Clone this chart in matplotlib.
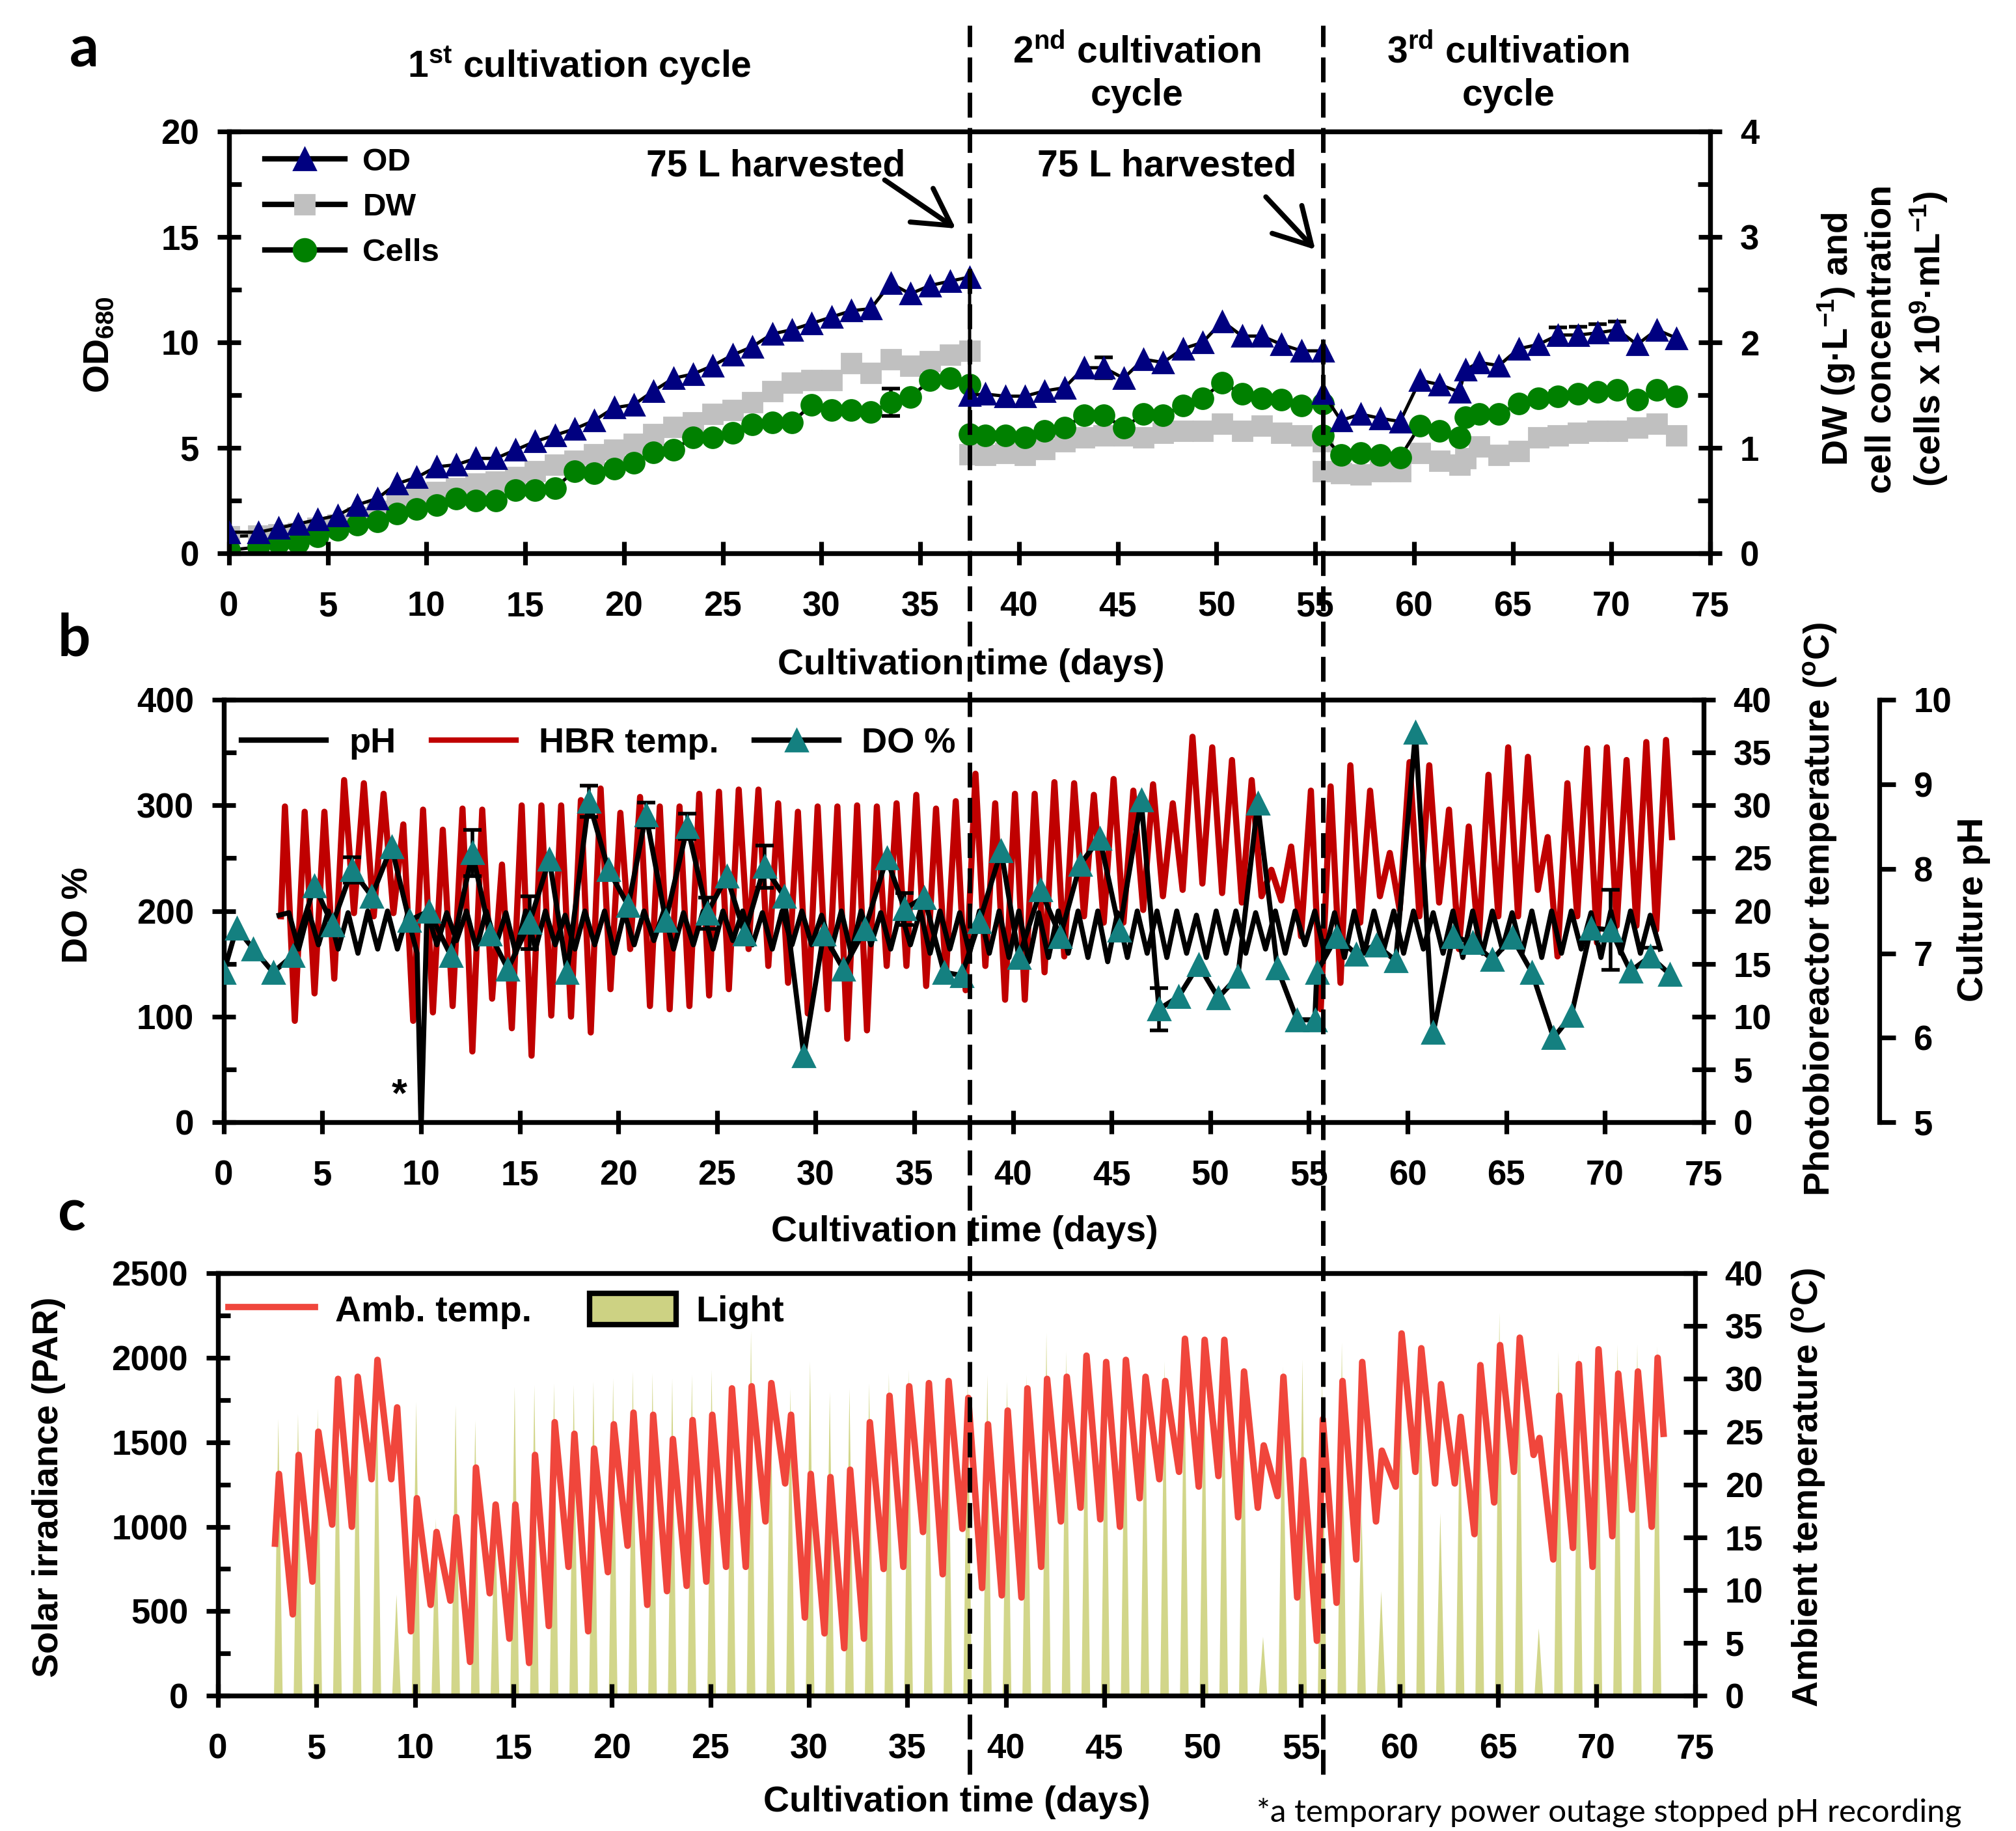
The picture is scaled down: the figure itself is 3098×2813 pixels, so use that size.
import numpy as np
import matplotlib
matplotlib.use("Agg")
import matplotlib.pyplot as plt
from matplotlib.lines import Line2D
from matplotlib.patches import Patch
from matplotlib.ticker import MultipleLocator

plt.rcParams["font.family"] = ["Liberation Sans", "DejaVu Sans"]
plt.rcParams["font.weight"] = "bold"
plt.rcParams["mathtext.fontset"] = "custom"
plt.rcParams["mathtext.rm"] = "Liberation Sans:bold"
plt.rcParams["mathtext.it"] = "Liberation Sans:bold"
plt.rcParams["mathtext.bf"] = "Liberation Sans:bold"

# ---------------- panel a: growth ----------------
a_days = [0, 1.5, 2.5, 3.5, 4.5, 5.5, 6.5, 7.5, 8.5, 9.5, 10.5, 11.5, 12.5, 13.5,
          14.5, 15.5, 16.5, 17.5, 18.5, 19.5, 20.5, 21.5, 22.5, 23.5, 24.5, 25.5,
          26.5, 27.5, 28.5, 29.5, 30.5, 31.5, 32.5, 33.5, 34.5, 35.5, 36.5, 37.5,
          37.5, 38.3, 39.3, 40.3, 41.3, 42.3, 43.3, 44.3, 45.3, 46.3, 47.3, 48.3,
          49.3, 50.3, 51.3, 52.3, 53.3, 54.3, 55.4,
          55.4, 56.3, 57.3, 58.3, 59.3, 60.3, 61.3, 62.3, 62.6, 63.3, 64.3, 65.3,
          66.3, 67.3, 68.3, 69.3, 70.3, 71.3, 72.3, 73.3]
od = [1.0, 1.0, 1.2, 1.4, 1.6, 1.8, 2.3, 2.6, 3.3, 3.6, 4.1, 4.2, 4.5, 4.5, 4.9,
      5.3, 5.6, 5.9, 6.3, 6.9, 7.05, 7.7, 8.3, 8.5, 8.9, 9.4, 9.8, 10.4, 10.6,
      10.9, 11.2, 11.5, 11.6, 12.8, 12.3, 12.7, 12.9, 13.1,
      7.5, 7.55, 7.45, 7.45, 7.7, 7.85, 8.8, 8.8, 8.3, 9.2, 9.05, 9.7, 10.0, 11.0,
      10.3, 10.3, 9.9, 9.6, 9.6,
      7.6, 6.3, 6.6, 6.4, 6.25, 8.2, 8.0, 7.65, 8.7, 9.05, 8.9, 9.7, 9.9, 10.35,
      10.35, 10.45, 10.6, 9.9, 10.6, 10.2]
dw = [0.16, 0.17, 0.18, 0.19, 0.24, 0.27, 0.34, 0.4, 0.5, 0.56, 0.58, 0.62, 0.66,
      0.68, 0.72, 0.78, 0.84, 0.88, 0.94, 0.98, 1.04, 1.13, 1.2, 1.24, 1.32, 1.36,
      1.43, 1.54, 1.62, 1.64, 1.64, 1.8, 1.71, 1.84, 1.78, 1.82, 1.88, 1.92,
      0.94, 0.93, 0.95, 0.93, 0.99, 1.06, 1.10, 1.12, 1.12, 1.10, 1.14, 1.16,
      1.16, 1.23, 1.16, 1.21, 1.14, 1.12, 1.06,
      0.78, 0.76, 0.75, 0.78, 0.78, 0.95, 0.88, 0.84, 0.9, 1.01, 0.93, 0.97,
      1.10, 1.12, 1.14, 1.16, 1.16, 1.19, 1.23, 1.12]
cells = [0.03, 0.06, 0.1, 0.1, 0.16, 0.22, 0.27, 0.3, 0.38, 0.42, 0.46, 0.52, 0.5,
         0.5, 0.6, 0.6, 0.62, 0.78, 0.76, 0.8, 0.86, 0.96, 0.98, 1.1, 1.1, 1.14,
         1.22, 1.24, 1.24, 1.41, 1.36, 1.36, 1.34, 1.43, 1.48, 1.64, 1.66, 1.6,
         1.13, 1.12, 1.12, 1.10, 1.16, 1.19, 1.31, 1.31, 1.19, 1.32, 1.31, 1.40,
         1.47, 1.62, 1.51, 1.47, 1.46, 1.40, 1.42,
         1.12, 0.93, 0.95, 0.93, 0.91, 1.21, 1.16, 1.10, 1.29, 1.32, 1.32, 1.42,
         1.47, 1.49, 1.51, 1.53, 1.55, 1.46, 1.55, 1.49]
od_err = {45: 0.5, 70: 0.35, 71: 0.4, 72: 0.4, 73: 0.4}
dw_err = {45: 0.06}
cells_err = {33: 0.13, 46: 0.05, 70: 0.05}
harvest_days = [37.5, 55.4]

# ---------------- panel b: DO, pH, HBR temperature ----------------
do_days = [0, 0.65, 1.5, 2.5, 3.5, 4.6, 5.5, 6.5, 7.5, 8.5, 9.4, 10.4, 11.5, 12.6,
           13.5, 14.4, 15.5, 16.5, 17.4, 18.5, 19.5, 20.5, 21.4, 22.4, 23.5, 24.5,
           25.5, 26.4, 27.4, 28.4, 29.4, 30.4, 31.4, 32.5, 33.6, 34.5, 35.5, 36.5,
           37.4, 38.3, 39.4, 40.3, 41.4, 42.4, 43.4, 44.4, 45.4, 46.5, 47.4, 48.4,
           49.4, 50.4, 51.4, 52.4, 53.4, 54.4, 55.3, 55.4, 56.4, 57.4, 58.4, 59.4,
           60.4, 61.3, 62.3, 63.3, 64.3, 65.3, 66.3, 67.4, 68.3, 69.3, 70.3, 71.3,
           72.3, 73.3]
do_pct = [142, 184, 164, 142, 158, 224, 187, 239, 214, 261, 191, 200, 158, 255,
          178, 145, 189, 249, 142, 304, 239, 205, 291, 191, 280, 198, 233, 178,
          242, 214, 63, 178, 145, 183, 250, 202, 213, 142, 139, 190, 257, 156,
          220, 176, 244, 269, 182, 305, 107, 119, 149, 118, 138, 302, 146, 97, 97,
          142, 176, 159, 168, 153, 369, 85, 176, 170, 154, 175, 142, 80, 101, 184,
          182, 143, 157, 140]
do_err = {7: 12, 13: 22, 16: 25, 19: 15, 22: 12, 24: 12, 25: 15, 28: 20, 35: 15,
          48: 20, 72: 38, 74: 8}

temp_days = list(range(3, 74))
hbr_peak = [29.9, 29.4, 29.4, 32.4, 32.1, 31.1, 28.2, 29.6, 27.7, 29.7,
            29.6, 24.4, 30.0, 30.0, 30.0, 30.5, 31.6, 29.3, 30.8, 29.9,
            29.9, 31.1, 31.3, 31.5, 31.5, 30.2, 29.4, 29.9, 29.9, 30.0,
            29.9, 30.2, 31.0, 29.7, 30.4, 33.0, 30.2, 31.1, 31.1, 32.2,
            32.1, 31.0, 32.5, 31.4, 32.0, 30.2, 36.5, 35.5, 34.3, 32.4,
            23.9, 26.1, 31.4, 31.8, 33.8, 31.4, 25.5, 34.1, 33.8, 29.6,
            28.0, 32.9, 35.5, 34.6, 27.0, 32.1, 35.4, 35.5, 34.3, 36.0,
            36.2]
hbr_trough = [9.6, 12.2, 13.6, 19.8, 19.5, 19.8, 9.6, 10.4, 11.0, 6.7,
              11.7, 8.9, 6.3, 10.1, 10.0, 8.5, 12.6, 16.4, 11.0, 10.7,
              11.0, 12.0, 12.6, 16.4, 14.8, 13.2, 10.3, 10.7, 7.9, 8.7,
              14.8, 14.8, 12.9, 13.9, 12.5, 14.8, 11.6, 11.6, 14.2, 15.7,
              19.5, 18.9, 18.9, 20.1, 21.4, 22.0, 22.6, 21.7, 20.8, 21.4,
              21.0, 17.6, 10.7, 13.2, 18.9, 21.4, 20.1, 19.5, 20.8, 16.4,
              17.0, 19.5, 19.5, 22.0, 15.7, 19.5, 17.0, 18.6, 18.6, 18.2]
hbr_first = (2.9, 19.5)
hbr_last = (73.4, 27.0)

ph_high = [7.48, 7.5, 7.5, 7.48, 7.5, 7.5, 7.45, 7.5, 7.48, 7.5,
           7.5, 7.48, 7.5, 7.5, 7.45, 7.5, 7.5, 7.48, 7.5, 7.5,
           7.48, 7.5, 7.5, 7.5, 7.48, 7.5, 7.5, 7.45, 7.5, 7.5,
           7.48, 7.5, 7.5, 7.5, 7.48, 7.5, 7.5, 7.5, 7.48, 7.5,
           7.5, 7.5, 7.48, 7.5, 7.5, 7.5, 7.45, 7.5, 7.5, 7.48,
           7.5, 7.5, 7.5, 7.48, 7.5, 7.5, 7.5, 7.5, 7.48, 7.5,
           7.5, 7.5, 7.48, 7.5, 7.5, 7.5, 7.48, 7.5, 7.5, 7.45]
ph_low = [7.05, 7.1, 7.05, 7.0, 7.05, 7.05, 7.0, 7.1, 7.15, 7.05,
          7.1, 7.0, 7.05, 7.1, 7.05, 7.1, 7.0, 7.1, 7.15, 7.05,
          7.1, 7.05, 7.15, 7.1, 7.05, 7.1, 7.1, 7.05, 7.0, 7.1,
          7.05, 7.1, 7.0, 7.05, 7.0, 7.0, 6.95, 6.9, 6.95, 7.0,
          6.95, 6.9, 6.95, 7.0, 6.95, 7.0, 6.95, 7.0, 7.0, 7.05,
          7.0, 7.1, 7.0, 6.95, 7.0, 7.05, 7.0, 7.05, 7.0, 6.95,
          7.0, 7.05, 7.0, 6.95, 7.0, 7.05, 6.95, 7.0, 7.0, 7.05]
ph_first = (2.8, 7.45)
ph_outage = (10.0, 4.9)

# ---------------- panel c: light and ambient temperature ----------------
light_peak = [1640, 1670, 1700, 1780, 1850, 1860, 600, 1740, 1050, 1720,
              1630, 1150, 1830, 1840, 1850, 1840, 1860, 1880, 1920, 1910,
              1880, 1900, 1930, 1870, 2160, 1800, 1820, 1980, 1800, 1820,
              1850, 1910, 1930, 1880, 1860, 1880, 1900, 1860, 1900, 2150,
              2040, 1950, 1980, 1950, 1900, 1980, 2000, 1980, 2000, 1930,
              350, 1950, 1990, 1880, 2090, 1100, 620, 2000, 2050, 1080,
              1700, 2000, 2270, 2100, 400, 2040, 2030, 2050, 2080, 2080,
              2070]
amb_peak = [21.0, 22.8, 25.0, 30.0, 30.2, 31.8, 27.3, 18.7, 15.5, 16.9,
            21.6, 18.1, 18.1, 22.8, 25.9, 24.8, 23.4, 25.7, 26.8, 26.6,
            24.3, 26.1, 26.6, 29.1, 29.3, 29.6, 26.6, 21.0, 20.7, 21.4,
            25.9, 28.4, 29.3, 29.6, 29.8, 28.2, 25.7, 27.0, 29.1, 30.0,
            30.2, 32.2, 31.6, 31.8, 30.2, 29.8, 33.8, 33.7, 33.7, 30.7,
            23.7, 30.2, 22.3, 26.2, 29.8, 31.6, 23.2, 34.3, 32.9, 29.5,
            26.4, 31.3, 33.2, 33.9, 24.4, 28.4, 31.4, 32.8, 30.5, 30.7,
            32.0]
amb_trough = [7.7, 10.8, 16.2, 16.0, 20.5, 20.5, 6.1, 8.6, 9.0, 3.2,
              9.7, 5.4, 3.1, 6.6, 12.2, 6.1, 11.7, 14.2, 8.6, 9.9,
              10.4, 10.8, 12.2, 12.2, 16.5, 20.1, 7.4, 5.9, 4.5, 5.4,
              12.0, 12.2, 15.5, 11.5, 15.8, 10.2, 9.5, 9.3, 12.2, 16.5,
              17.8, 16.7, 16.0, 18.7, 20.5, 21.2, 19.8, 20.8, 16.9, 17.8,
              18.9, 9.3, 5.2, 8.8, 12.9, 16.5, 19.8, 21.2, 20.1, 20.1,
              15.3, 18.3, 21.2, 22.8, 12.9, 14.0, 12.2, 15.1, 17.6, 16.0]
amb_first = (2.9, 14.4)
amb_last = (73.4, 24.8)

x_ticks = list(range(0, 80, 5))

# colours
NAVY, GREY, GREEN = "#000080", "#c0c0c0", "#008000"
TEAL, DARKRED = "#148080", "#c00000"
AMBRED, KHAKI = "#f0463c", "#d2d68a"

SPW = 2.6
LBL = 20


def style(ax, xpad=14, ypad=10):
    for s in ax.spines.values():
        s.set_linewidth(SPW)
    ax.tick_params(which="major", direction="inout", length=13, width=SPW,
                   labelsize=19)
    ax.tick_params(which="minor", direction="in", length=7, width=SPW)
    ax.tick_params(axis="x", pad=xpad)
    ax.tick_params(axis="y", pad=ypad)


fig = plt.figure(figsize=(15.49, 14.065), dpi=200)

# ================= panel a =================
ax_a = fig.add_axes([0.1136, 0.6978, 0.7347, 0.2304])
ax_a2 = ax_a.twinx()
ax_a.set_zorder(3)
ax_a.patch.set_visible(False)

ax_a2.plot(a_days, dw, color="black", lw=1.8, marker="s", ms=10.5,
           mfc=GREY, mec=GREY, zorder=2)
ax_a2.plot(a_days, cells, color="black", lw=1.8, marker="o", ms=11.5,
           mfc=GREEN, mec=GREEN, zorder=3)
ax_a.plot(a_days, od, color="black", lw=1.8, marker="^", ms=11.5,
          mfc=NAVY, mec=NAVY, zorder=3)

for axx, vals, errs in [(ax_a, od, od_err), (ax_a2, dw, dw_err),
                        (ax_a2, cells, cells_err)]:
    idx = list(errs.keys())
    axx.errorbar([a_days[i] for i in idx], [vals[i] for i in idx],
                 yerr=[errs[i] for i in idx], fmt="none", ecolor="black",
                 elinewidth=2, capsize=5, capthick=2, zorder=1)

ax_a.set_xlim(0, 75)
ax_a.set_ylim(0, 20)
ax_a2.set_ylim(0, 4)
ax_a.set_xticks(x_ticks)
ax_a.yaxis.set_major_locator(MultipleLocator(5))
ax_a.yaxis.set_minor_locator(MultipleLocator(2.5))
ax_a2.yaxis.set_major_locator(MultipleLocator(1))
ax_a2.yaxis.set_minor_locator(MultipleLocator(0.5))
style(ax_a)
style(ax_a2)

leg_a = [Line2D([], [], color="black", lw=3, marker="^", ms=12.5, mfc=NAVY, mec=NAVY),
         Line2D([], [], color="black", lw=3, marker="s", ms=11, mfc=GREY, mec=GREY),
         Line2D([], [], color="black", lw=3, marker="o", ms=12.5, mfc=GREEN, mec=GREEN)]
ax_a.legend(leg_a, ["OD", "DW", "Cells"], loc="upper left",
            bbox_to_anchor=(0.024, 0.962), frameon=False, fontsize=17.8,
            handlelength=2.5, handletextpad=0.55, labelspacing=0.5,
            borderpad=0, borderaxespad=0)

for tx, (tail, tip) in zip([27.7, 47.5], [((33.2, 17.7), (36.8, 15.4)),
                                          ((52.5, 16.9), (55.0, 14.4))]):
    ax_a.text(tx, 17.9, "75 L harvested", ha="center", va="baseline",
              fontsize=20.5)
    ax_a.annotate("", xy=tip, xytext=tail,
                  arrowprops=dict(arrowstyle="->,head_length=0.8,head_width=0.45",
                                  lw=2.8, color="black", shrinkA=0, shrinkB=0,
                                  mutation_scale=25),
                  annotation_clip=False)

fig.text(0.0494, 0.8116, "OD$_{680}$", rotation=90, ha="center", va="center",
         fontsize=LBL)
fig.text(0.9338, 0.8148,
         "DW (g·L$^{-1}$) and\ncell concentration\n(cells x 10$^{9}$·mL$^{-1}$)",
         rotation=90, ha="center", va="center", fontsize=LBL, linespacing=1.3,
         multialignment="center")
fig.text(0.4816, 0.6367, "Cultivation time (days)", ha="center", va="center",
         fontsize=LBL)

# cycle titles
fig.text(0.2873, 0.9641, "1$^{st}$ cultivation cycle", ha="center", va="center",
         fontsize=20.5)
fig.text(0.5639, 0.9598, "2$^{nd}$ cultivation\ncycle", ha="center", va="center",
         fontsize=20.5, multialignment="center", linespacing=1.3)
fig.text(0.7482, 0.9598, "3$^{rd}$ cultivation\ncycle", ha="center", va="center",
         fontsize=20.5, multialignment="center", linespacing=1.3)

# ================= panel b =================
ax_b = fig.add_axes([0.1110, 0.3871, 0.7340, 0.2307])
ax_t = ax_b.twinx()
ax_ph = ax_b.twinx()
ax_t.set_zorder(1)
ax_ph.set_zorder(2)
ax_b.set_zorder(3)
for axx in (ax_b, ax_t, ax_ph):
    axx.patch.set_visible(False)

hbr_x, hbr_y = [hbr_first[0]], [hbr_first[1]]
for i, d in enumerate(temp_days):
    hbr_x.append(d + 0.1)
    hbr_y.append(hbr_peak[i])
    if i < len(hbr_trough):
        hbr_x.append(d + 0.6)
        hbr_y.append(hbr_trough[i])
hbr_x.append(hbr_last[0])
hbr_y.append(hbr_last[1])
ax_t.plot(hbr_x, hbr_y, color=DARKRED, lw=3.4, solid_joinstyle="round")

ph_x, ph_y = [ph_first[0]], [ph_first[1]]
for i, d in enumerate(temp_days[:len(ph_low)]):
    if d == int(ph_outage[0]):
        ph_x.append(ph_outage[0])
        ph_y.append(ph_outage[1])
    ph_x.append(d + 0.3)
    ph_y.append(ph_high[i])
    ph_x.append(d + 0.8)
    ph_y.append(ph_low[i])
ax_ph.plot(ph_x, ph_y, color="black", lw=2.8, solid_joinstyle="round")

idx = list(do_err.keys())
ax_b.errorbar([do_days[i] for i in idx], [do_pct[i] for i in idx],
              yerr=[do_err[i] for i in idx], fmt="none", ecolor="black",
              elinewidth=2, capsize=5, capthick=2, zorder=1)
ax_b.plot(do_days, do_pct, color="black", lw=2.8, marker="^", ms=12,
          mfc=TEAL, mec=TEAL, zorder=3)

ax_b.set_xlim(0, 75)
ax_b.set_ylim(0, 400)
ax_t.set_ylim(0, 40)
ax_ph.set_ylim(5, 10)
ax_b.set_xticks(x_ticks)
ax_b.yaxis.set_major_locator(MultipleLocator(100))
ax_b.yaxis.set_minor_locator(MultipleLocator(50))
ax_t.yaxis.set_major_locator(MultipleLocator(5))
style(ax_b)
style(ax_t)

ax_ph.spines["right"].set_position(("axes", (2888 - 344) / 2274))
for s in ("top", "left", "bottom"):
    ax_ph.spines[s].set_visible(False)
ax_ph.spines["right"].set_linewidth(SPW)
ax_ph.yaxis.set_major_locator(MultipleLocator(1))
ax_ph.tick_params(axis="y", direction="out", length=9, width=SPW, labelsize=19,
                  pad=10)

ax_b.text(8.9, 25, "*", ha="center", va="center", fontsize=22)

leg_b = [Line2D([], [], color="black", lw=3),
         Line2D([], [], color=DARKRED, lw=3),
         Line2D([], [], color="black", lw=3, marker="^", ms=12.5, mfc=TEAL, mec=TEAL)]
ax_b.legend(leg_b, ["pH", "HBR temp.", "DO %"], loc="upper left", ncol=3,
            bbox_to_anchor=(0.012, 0.935), frameon=False, fontsize=19.5,
            handlelength=2.4, handletextpad=0.65, columnspacing=1.0,
            borderpad=0, borderaxespad=0)

fig.text(0.039, 0.5002, "DO %", rotation=90, ha="center", va="center",
         fontsize=LBL)
fig.text(0.9029, 0.5034, "Photobioreactor temperature ($^{o}$C)", rotation=90,
         ha="center", va="center", fontsize=LBL)
fig.text(0.979, 0.5034, "Culture pH", rotation=90, ha="center", va="center",
         fontsize=LBL)
fig.text(0.4784, 0.3271, "Cultivation time (days)", ha="center", va="center",
         fontsize=LBL)

# ================= panel c =================
ax_c = fig.add_axes([0.1081, 0.0739, 0.7327, 0.2307])
ax_c2 = ax_c.twinx()
ax_c.patch.set_visible(False)

lx, ly = [], []
for d, p in zip(temp_days, light_peak):
    lx += [d + 0.05 - 0.22, d + 0.05, d + 0.05 + 0.22]
    ly += [0, p, 0]
ax_c.fill_between(lx, 0, ly, color=KHAKI, lw=0)

amb_x, amb_y = [amb_first[0]], [amb_first[1]]
for i, d in enumerate(temp_days):
    amb_x.append(d + 0.1)
    amb_y.append(amb_peak[i])
    if i < len(amb_trough):
        amb_x.append(d + 0.8)
        amb_y.append(amb_trough[i])
amb_x.append(amb_last[0])
amb_y.append(amb_last[1])
ax_c2.plot(amb_x, amb_y, color=AMBRED, lw=3.6, solid_joinstyle="round")

ax_c.set_xlim(0, 75)
ax_c.set_ylim(0, 2500)
ax_c2.set_ylim(0, 40)
ax_c.set_xticks(x_ticks)
ax_c.yaxis.set_major_locator(MultipleLocator(500))
ax_c.yaxis.set_minor_locator(MultipleLocator(250))
ax_c2.yaxis.set_major_locator(MultipleLocator(5))
style(ax_c)
style(ax_c2)

leg_c = [Line2D([], [], color=AMBRED, lw=3.5),
         Patch(facecolor="#cdd283", edgecolor="black", lw=3)]
ax_c2.legend(leg_c, ["Amb. temp.", "Light"], loc="upper left", ncol=2,
             bbox_to_anchor=(0.007, 0.953), frameon=False, fontsize=20,
             handlelength=2.4, handleheight=0.95, handletextpad=0.55,
             columnspacing=1.6, borderpad=0, borderaxespad=0)

fig.text(0.0242, 0.1877, "Solar irradiance (PAR)", rotation=90, ha="center",
         va="center", fontsize=LBL)
fig.text(0.897, 0.1877, "Ambient temperature ($^{o}$C)", rotation=90,
         ha="center", va="center", fontsize=LBL)
fig.text(0.4745, 0.0158, "Cultivation time (days)", ha="center", va="center",
         fontsize=LBL)

# panel letters
for x, y, s in [(0.0345, 0.9634, "a"), (0.0287, 0.6417, "b"), (0.0287, 0.3278, "c")]:
    fig.text(x, y, s, fontsize=32, fontweight="bold", family="Lato",
             va="baseline", ha="left")

fig.text(0.6233, 0.005, "*a temporary power outage stopped pH recording",
         fontsize=17.8, fontweight="normal", family="Lato", va="baseline",
         ha="left")

# harvest dashed lines spanning all panels
inv = fig.transFigure.inverted()
for hd in harvest_days:
    xf = inv.transform(ax_a.transData.transform((hd, 0)))[0]
    fig.add_artist(Line2D([xf, xf], [0.031, 0.986], transform=fig.transFigure,
                          color="black", lw=2.5, ls=(0, (5.5, 2.3)), zorder=10))

fig.savefig("out.png", dpi=200)
